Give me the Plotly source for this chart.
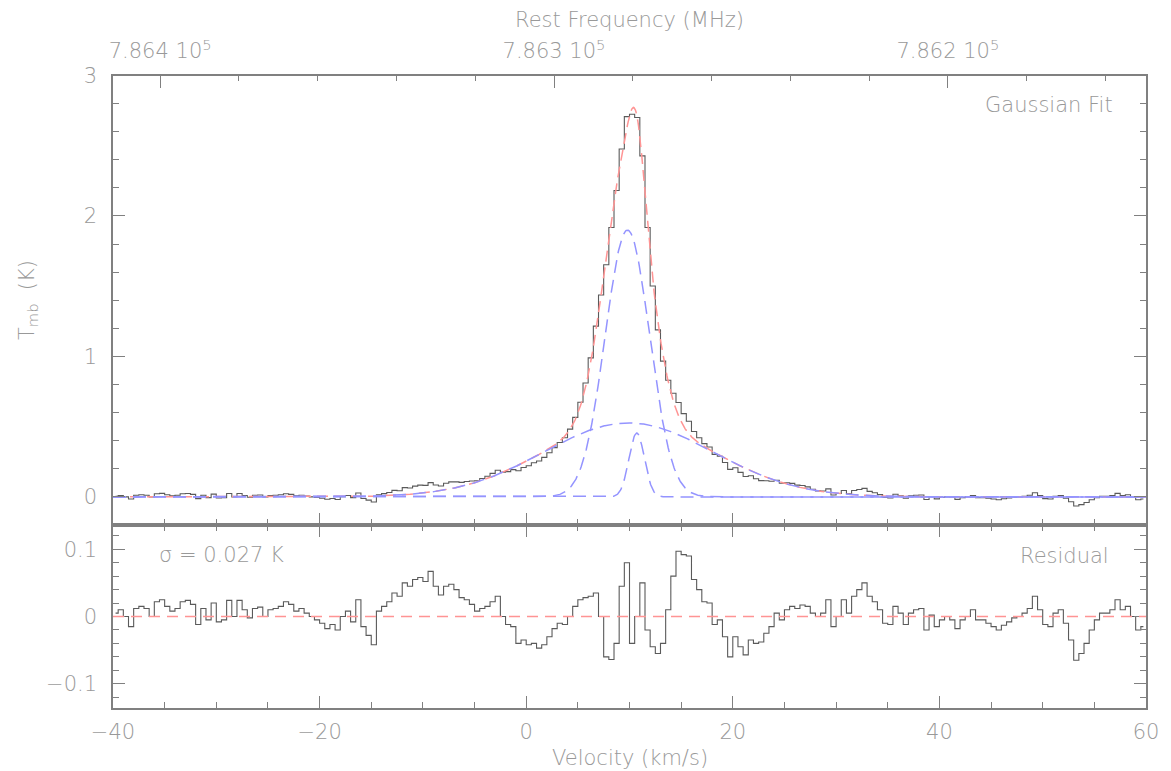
import numpy as np
import plotly.graph_objects as go

# ---- data -------------------------------------------------------------
# channel grid (km/s): 200 channels of 0.5 km/s covering -40..60
V_FIRST_CENTRE = -39.75
V_STEP = 0.5

# fit residual per channel (K), spectrum minus the Gaussian model
residual_k = [
    0.005, 0.010, 0.000, -0.015, 0.012, 0.015, 0.012, 0.000, 0.022, 0.025,
    0.015, 0.008, 0.012, 0.022, 0.024, 0.018, -0.012, 0.012, -0.005, 0.020,
    -0.008, -0.005, 0.024, 0.000, 0.024, 0.010, -0.002, 0.012, 0.014, 0.000,
    0.010, 0.012, 0.015, 0.022, 0.018, 0.008, 0.012, 0.005, 0.000, -0.005,
    -0.010, -0.018, -0.012, -0.020, 0.000, 0.008, -0.008, 0.025, -0.015, -0.028,
    -0.042, 0.008, 0.015, 0.022, 0.035, 0.030, 0.050, 0.045, 0.055, 0.058,
    0.052, 0.067, 0.045, 0.032, 0.045, 0.048, 0.040, 0.028, 0.025, 0.018,
    0.008, 0.012, 0.015, 0.022, 0.030, 0.000, -0.012, -0.015, -0.040, -0.035,
    -0.042, -0.040, -0.047, -0.042, -0.030, -0.018, -0.010, -0.012, 0.000, 0.015,
    0.025, 0.028, 0.030, 0.035, 0.000, -0.060, -0.064, -0.040, 0.045, 0.080,
    -0.040, 0.000, 0.050, -0.020, -0.045, -0.055, -0.040, 0.010, 0.060, 0.097,
    0.092, 0.090, 0.055, 0.040, 0.022, 0.020, -0.012, -0.005, -0.030, -0.060,
    -0.030, -0.045, -0.057, -0.035, -0.040, -0.038, -0.025, -0.015, 0.005, -0.005,
    0.010, 0.015, 0.012, 0.017, 0.015, 0.005, 0.000, 0.005, 0.025, -0.015,
    0.000, 0.025, 0.005, 0.030, 0.040, 0.050, 0.030, 0.022, 0.010, -0.010,
    -0.012, 0.015, 0.005, -0.012, 0.005, 0.010, 0.012, -0.020, 0.002, -0.015,
    -0.005, 0.000, -0.005, -0.018, -0.005, 0.000, 0.010, -0.005, -0.005, -0.010,
    -0.015, -0.020, -0.013, -0.008, -0.002, 0.000, 0.005, 0.012, 0.030, 0.010,
    -0.012, -0.015, 0.005, 0.010, -0.010, -0.035, -0.065, -0.055, -0.040, -0.020,
    -0.005, 0.005, 0.005, 0.010, 0.025, 0.010, 0.015, 0.000, -0.020, -0.015,
]

# Gaussian components: peak (K), centre (km/s), FWHM (km/s)
comp_amp = [0.527, 1.90, 0.455]
comp_centre = [9.9, 9.8, 10.7]
comp_fwhm = [19.3, 5.05, 1.75]

rms_k = 0.027

# velocity / frequency axes
v_range = [-40, 60]
rest_freq_mhz = 786307.06
c_kms = 299792.458
freq_tickvals = [786400, 786300, 786200]
freq_ticktext = ["7.864 10<sup>5</sup>", "7.863 10<sup>5</sup>", "7.862 10<sup>5</sup>"]
freq_minor_vals = list(range(786160, 786420, 20))

# ---- derived curves ----------------------------------------------------
chan_v = V_FIRST_CENTRE + V_STEP * np.arange(len(residual_k))
fine_v = np.linspace(v_range[0], v_range[1], 1601)


def gauss(v, amp, v0, fwhm):
    sig = fwhm / (2.0 * np.sqrt(2.0 * np.log(2.0)))
    return amp * np.exp(-0.5 * ((v - v0) / sig) ** 2)


components = [gauss(fine_v, a, c, w) for a, c, w in zip(comp_amp, comp_centre, comp_fwhm)]
model_fine = np.sum(components, axis=0)
model_chan = np.sum([gauss(chan_v, a, c, w) for a, c, w in zip(comp_amp, comp_centre, comp_fwhm)], axis=0)
spectrum = model_chan + np.array(residual_k)


def v_to_freq(v):
    return rest_freq_mhz * (1.0 - v / c_kms)


# ---- styling -----------------------------------------------------------
AX = "#808080"
TXT = "#999999"
FONT = dict(family="DejaVu Sans", size=21, color=TXT, weight=200)
SPEC_COL = "#5a5a5a"
FIT_COL = "#ff9494"
COMP_COL = "#9494ff"

X_DOM = [113 / 1171, 1146 / 1171]
TOP_DOM = [1 - 525 / 771, 1 - 75.5 / 771]
BOT_DOM = [1 - 708 / 771, 1 - 525 / 771]

fig = go.Figure()

# observed spectrum (histogram style)
fig.add_trace(go.Scatter(x=chan_v, y=spectrum, mode="lines", line=dict(color=SPEC_COL, width=1.1, shape="hvh"),
                         xaxis="x2", yaxis="y", hoverinfo="skip"))
# total fit
fig.add_trace(go.Scatter(x=fine_v, y=model_fine, mode="lines", line=dict(color=FIT_COL, width=1.5, dash="11px,6px"),
                         xaxis="x2", yaxis="y", hoverinfo="skip"))
# individual components
for comp in components:
    fig.add_trace(go.Scatter(x=fine_v, y=comp, mode="lines", line=dict(color=COMP_COL, width=1.5, dash="13px,7px"),
                             xaxis="x2", yaxis="y", hoverinfo="skip"))
# frequency axis carrier
fig.add_trace(go.Scatter(x=[v_to_freq(v_range[0]), v_to_freq(v_range[1])], y=[0, 0], mode="lines",
                         line=dict(width=0), opacity=0, xaxis="x3", yaxis="y", hoverinfo="skip"))
# residual
fig.add_trace(go.Scatter(x=chan_v, y=residual_k, mode="lines", line=dict(color=SPEC_COL, width=1.1, shape="hvh"),
                         xaxis="x", yaxis="y2", hoverinfo="skip"))

fig.add_shape(type="line", xref="x", yref="y2", x0=v_range[0], x1=v_range[1], y0=0, y1=0,
              line=dict(color=FIT_COL, width=1.3, dash="11px,7px"))

common = dict(showline=True, linecolor=AX, linewidth=1.5, ticks="inside", tickcolor=AX, tickwidth=1.2,
              showgrid=False, zeroline=False, tickfont=FONT, automargin=False)

fig.update_layout(
    width=1171, height=771,
    margin=dict(l=0, r=0, t=0, b=0),
    paper_bgcolor="white", plot_bgcolor="white",
    showlegend=False,
    font=FONT,
    xaxis=dict(**common, domain=X_DOM, anchor="y2", range=v_range, tickmode="linear", tick0=0, dtick=20,
               ticklen=12, mirror="ticks", ticklabelstandoff=4,
               minor=dict(ticks="inside", dtick=5, ticklen=6, tickcolor=AX, tickwidth=1.1)),
    xaxis2=dict(**common, domain=X_DOM, anchor="y", matches="x", showticklabels=False, tickmode="linear",
                tick0=0, dtick=20, ticklen=12,
                minor=dict(ticks="inside", dtick=5, ticklen=6, tickcolor=AX, tickwidth=1.1)),
    xaxis3=dict(**common, domain=X_DOM, anchor="y", overlaying="x2", side="top",
                range=[v_to_freq(v_range[0]), v_to_freq(v_range[1])],
                tickmode="array", tickvals=freq_tickvals, ticktext=freq_ticktext, ticklen=13,
                ticklabelstandoff=7,
                minor=dict(ticks="inside", tickmode="array", tickvals=freq_minor_vals, ticklen=6,
                           tickcolor=AX, tickwidth=1.1)),
    yaxis=dict(**common, domain=TOP_DOM, anchor="x2", range=[-0.2, 3], tickmode="linear", tick0=0, dtick=1,
               ticklen=12, mirror="ticks", ticklabelstandoff=10,
               minor=dict(ticks="inside", dtick=0.2, ticklen=6, tickcolor=AX, tickwidth=1.1)),
    yaxis2=dict(**common, domain=BOT_DOM, anchor="x", range=[-0.136, 0.136], tickmode="array",
                tickvals=[-0.1, 0, 0.1], ticktext=["\u22120.1", "0", "0.1"], ticklen=12, mirror="ticks",
                ticklabelstandoff=10,
                minor=dict(ticks="inside", tickmode="linear", tick0=0, dtick=0.02, ticklen=6,
                           tickcolor=AX, tickwidth=1.1)),
)

ann = dict(showarrow=False, font=FONT, xref="paper", yref="paper")
fig.add_annotation(text="Rest Frequency (MHz)", x=0.5 * (X_DOM[0] + X_DOM[1]), y=1 - 20 / 771,
                   xanchor="center", yanchor="middle", **ann)
fig.add_annotation(text="Velocity (km/s)", x=0.5 * (X_DOM[0] + X_DOM[1]), y=1 - 758 / 771,
                   xanchor="center", yanchor="middle", **ann)
fig.add_annotation(text="T<sub>mb</sub>  (K)", x=28 / 1171, y=1 - 300 / 771, textangle=-90,
                   xanchor="center", yanchor="middle", **ann)
fig.add_annotation(text="Gaussian Fit", x=1115 / 1171, y=1 - 105 / 771, xanchor="right", yanchor="middle", **ann)
fig.add_annotation(text="Residual", x=1111 / 1171, y=1 - 556 / 771, xanchor="right", yanchor="middle", **ann)
fig.add_annotation(text=f"\u03c3 = {rms_k:.3f} K", x=157 / 1171, y=1 - 555 / 771, xanchor="left",
                   yanchor="middle", **ann)

fig.write_html("out.html")
